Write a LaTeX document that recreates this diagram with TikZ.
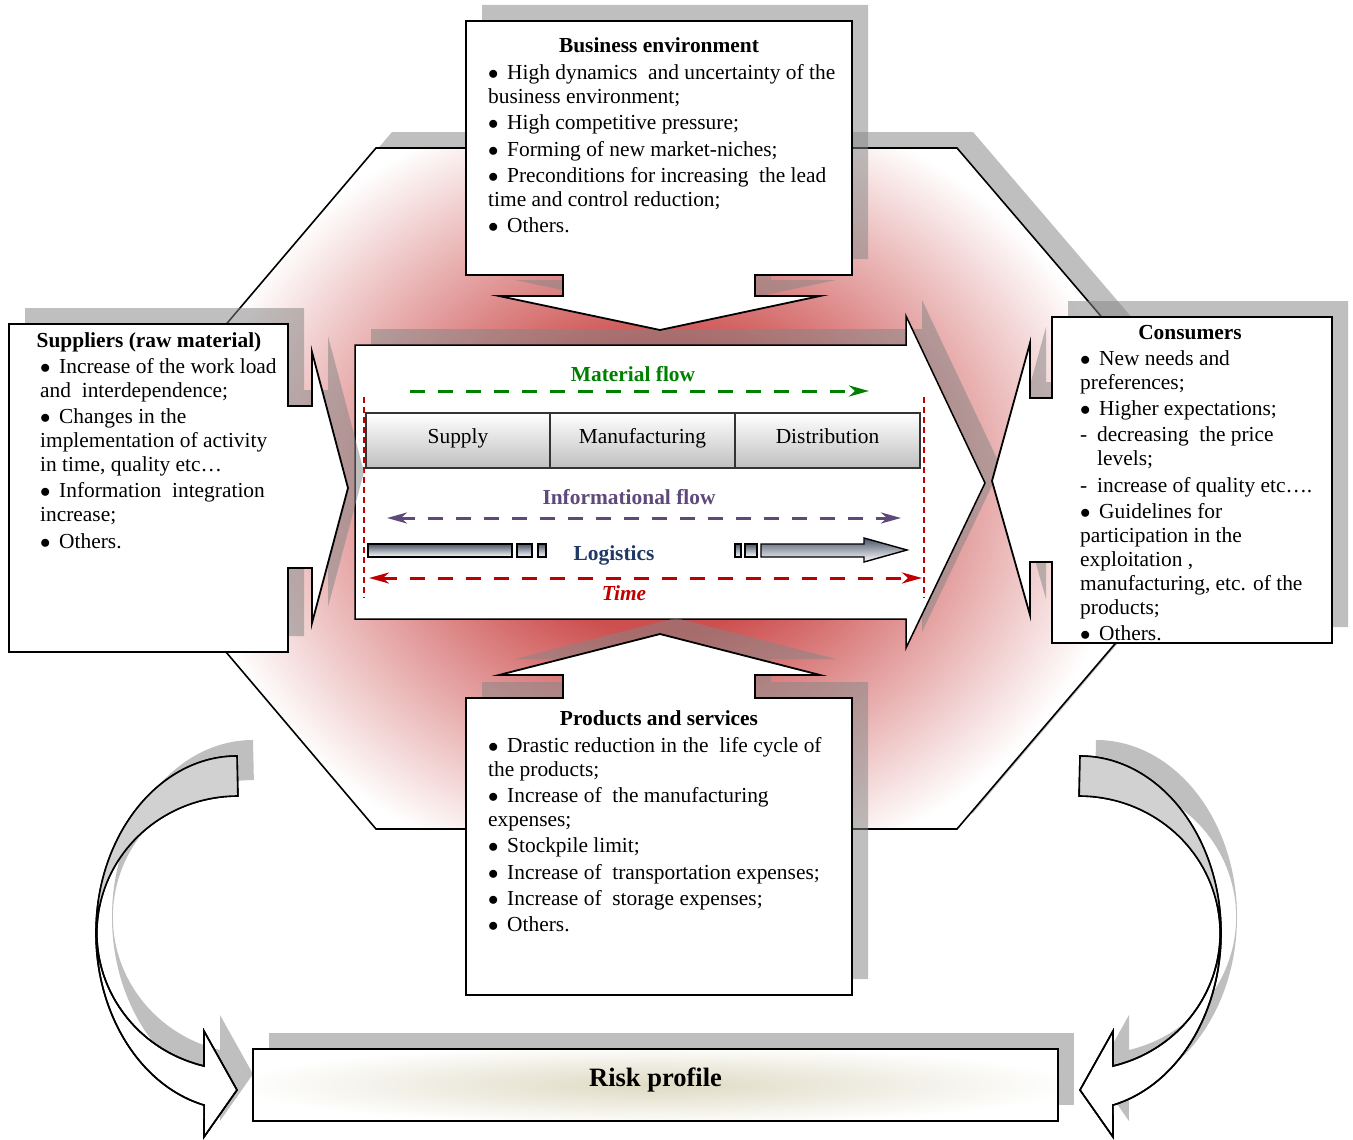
\documentclass[tikz,border=0pt]{standalone}
\usepackage{fontspec}
\setmainfont{Liberation Serif}
\usetikzlibrary{arrows.meta}

\definecolor{glowred}{RGB}{205,80,80}
\definecolor{matgreen}{RGB}{0,128,0}
\definecolor{infopurple}{RGB}{95,73,122}
\definecolor{logblue}{RGB}{31,56,100}
\definecolor{timered}{RGB}{192,0,0}
\definecolor{slate}{RGB}{75,85,105}
\definecolor{riskbeige}{RGB}{222,218,195}

\pgfdeclareradialshading{glow}{\pgfpoint{0bp}{0bp}}{color(0bp)=(glowred); color(9bp)=(glowred); color(25bp)=(white); color(50bp)=(white)}
\pgfdeclareradialshading{riskglow}{\pgfpoint{0bp}{0bp}}{color(0bp)=(riskbeige); color(25bp)=(white); color(50bp)=(white)}

\newcommand{\bodysize}{\fontsize{21.4}{24}\selectfont}
\newcommand{\bul}{\makebox[19pt][l]{$\bullet$}}
\newcommand{\dsh}{\makebox[17pt][l]{-}}

% contours
\newcommand{\hexpath}{(376,148) -- (957,148) -- (1248,488) -- (957,829) -- (376,829) -- (87,488) -- cycle}
\newcommand{\mainarrow}{(355,345) -- (906,345) -- (906,316) -- (985,483) -- (906,648) -- (906,619) -- (355,619) -- cycle}
\newcommand{\toppanel}{(466,21) -- (852,21) -- (852,275) -- (755,275) -- (755,296) -- (820,296) -- (660,330) -- (499,296) -- (563,296) -- (563,275) -- (466,275) -- cycle}
\newcommand{\botpanel}{(466,995) -- (852,995) -- (852,698) -- (755,698) -- (755,675) -- (820,675) -- (660,634) -- (499,675) -- (563,675) -- (563,698) -- (466,698) -- cycle}
\newcommand{\leftpanel}{(9,324) -- (288,324) -- (288,406) -- (312,406) -- (312,352) -- (348,488) -- (312,623) -- (312,568) -- (288,568) -- (288,652) -- (9,652) -- cycle}
\newcommand{\rightpanel}{(1332,317) -- (1052,317) -- (1052,398) -- (1030,398) -- (1030,343) -- (992,481) -- (1030,615) -- (1030,562) -- (1052,562) -- (1052,643) -- (1332,643) -- cycle}
\newcommand{\leftcurve}{(237,756) arc[start angle=270, end angle=103.5, x radius=141, y radius=177] -- (204,1137) -- (237,1090) -- (204,1031) -- (204,1066) arc[start angle=103.9, end angle=270, x radius=141, y radius=137] -- cycle}
\newcommand{\rightcurve}{(1080,756) arc[start angle=-90, end angle=76.5, x radius=141, y radius=177] -- (1113,1137) -- (1080,1090) -- (1113,1031) -- (1113,1066) arc[start angle=76.1, end angle=-90, x radius=141, y radius=137] -- cycle}

\tikzset{
  shadowfill/.style={fill=black!48, fill opacity=0.52},
  panel/.style={draw=black, line width=1.8pt, fill=white, line join=miter},
  bodytext/.style={font=\bodysize, align=left, inner sep=0pt, anchor=north west},
  headtext/.style={font=\bodysize\bfseries, inner sep=0pt, anchor=base},
  procbox/.style={draw=black!80, line width=1.6pt, top color=white, bottom color=black!25},
  logbar/.style={draw=black, line width=1.4pt, top color=slate, bottom color=white},
  flowline/.style={line width=3pt, dash pattern=on 15pt off 13pt},
  guideline/.style={draw=timered, line width=1.5pt, dash pattern=on 6pt off 4pt},
  curvearrow/.style={draw=black, line width=1.6pt, fill=white},
  flowtip/.tip={Stealth[length=20pt,width=11pt,inset=6pt]}
}

\begin{document}
\begin{tikzpicture}[x=1pt, y=-1pt]
\useasboundingbox (0,0) rectangle (1353,1140);

% Hexagone
\fill[shadowfill, shift={(16,-16)}] \hexpath;
\fill[white] \hexpath;
\begin{scope}
  \clip \hexpath;
  \shade[shading=glow] (660,488) ellipse [x radius=470, y radius=400];
\end{scope}
\draw[line width=1.6pt, line join=miter] \hexpath;

% Fleche centrale
\fill[shadowfill, shift={(16,-16)}] \mainarrow;
\draw[panel, line width=1.5pt] \mainarrow;
\draw[guideline] (364,397) -- (364,598);
\draw[guideline] (924,397) -- (924,598);

% Etapes
\foreach \xa/\xb/\nm/\lbl in {366/550/supply/Supply, 550/735/manuf/Manufacturing, 735/920/distr/Distribution}
  {
  \draw[procbox] (\xa,413) rectangle (\xb,468);
  \node[font=\bodysize, inner sep=0pt, anchor=base] (\nm) at ({(\xa+\xb)/2},443) {\lbl};
  }

% Flux
\node[headtext, text=matgreen] (material) at (633,381) {Material flow};
\coordinate (matA) at (410,391);
\coordinate (matB) at (869,391);
\draw[flowline, matgreen, -flowtip] (matA) -- (matB);

\node[headtext, text=infopurple] (informational) at (629,504) {Informational flow};
\coordinate (infoA) at (387,518);
\coordinate (infoB) at (901,518);
\draw[flowline, infopurple, flowtip-flowtip] (infoA) -- (infoB);

\node[headtext, text=logblue] (logistics) at (614,560) {Logistics};
\draw[logbar] (368,544) rectangle (512,557);
\draw[logbar] (517,544) rectangle (532,557);
\draw[logbar] (538,544) rectangle (546,557);
\draw[logbar] (735,544) rectangle (741,557);
\draw[logbar] (745,544) rectangle (757,557);
\draw[logbar] (761,544) -- (864,544) -- (864,538) -- (907,550) -- (864,562) -- (864,557) -- (761,557) -- cycle;

\node[headtext, font=\bodysize\bfseries\itshape, text=timered] (time) at (624,600) {Time};
\coordinate (timeA) at (369,578);
\coordinate (timeB) at (922,578);
\draw[flowline, timered, flowtip-flowtip] (timeA) -- (timeB);

% Environnement
\fill[shadowfill, shift={(16,-16)}] \toppanel;
\draw[panel] \toppanel;
\node[headtext] (envTitle) at (659,53) {Business environment};
\node[bodytext] (envText) at (488,64.4) {\bul High dynamics~ and uncertainty of the\\
business environment;\\[2.3pt]
\bul High competitive pressure;\\[2.3pt]
\bul Forming of new market-niches;\\[2.3pt]
\bul Preconditions for increasing~ the lead\\
time and control reduction;\\[2.3pt]
\bul Others.};

% Fournisseurs
\fill[shadowfill, shift={(16,-16)}] \leftpanel;
\draw[panel] \leftpanel;
\node[headtext] (supTitle) at (149,347) {Suppliers (raw material)};
\node[bodytext] (supText) at (40,358.1) {\bul Increase of the work load\\
and~ interdependence;\\[2.3pt]
\bul Changes in the\\
implementation of activity\\
in time, quality etc…\\[2.3pt]
\bul Information~ integration\\
increase;\\[2.3pt]
\bul Others.};

% Consommateurs
\fill[shadowfill, shift={(16,-16)}] \rightpanel;
\draw[panel] \rightpanel;
\node[headtext] (conTitle) at (1190,339) {Consumers};
\node[bodytext] (conText) at (1080,350.4) {\bul New needs and\\
preferences;\\[2.2pt]
\bul Higher expectations;\\[2.2pt]
\dsh decreasing~ the price\\
\hspace*{17pt}levels;\\[2.2pt]
\dsh increase of quality etc….\\[2.2pt]
\bul Guidelines for\\
participation in the\\
exploitation ,\\
manufacturing, etc. of the\\
products;\\[2.2pt]
\bul Others.};

% Produits
\fill[shadowfill, shift={(16,-16)}] \botpanel;
\draw[panel] \botpanel;
\node[headtext] (prodTitle) at (659,725) {Products and services};
\node[bodytext] (prodText) at (488,737.1) {\bul Drastic reduction in the~ life cycle of\\
the products;\\[2.3pt]
\bul Increase of~ the manufacturing\\
expenses;\\[2.3pt]
\bul Stockpile limit;\\[2.3pt]
\bul Increase of~ transportation expenses;\\[2.3pt]
\bul Increase of~ storage expenses;\\[2.3pt]
\bul Others.};

% Fleches courbes
\fill[shadowfill, shift={(16,-16)}] \leftcurve;
\filldraw[curvearrow] \leftcurve;
\begin{scope}
  \clip (0,0) rectangle (660,933);
  \fill[black!18] \leftcurve;
\end{scope}
\draw[curvearrow, fill=none] \leftcurve;

\fill[shadowfill, shift={(16,-16)}] \rightcurve;
\filldraw[curvearrow] \rightcurve;
\begin{scope}
  \clip (660,0) rectangle (1353,933);
  \fill[black!18] \rightcurve;
\end{scope}
\draw[curvearrow, fill=none] \rightcurve;

% Profil de risque
\fill[shadowfill] (269,1033) rectangle (1074,1105);
\fill[white] (253,1049) rectangle (1058,1121);
\begin{scope}
  \clip (253,1049) rectangle (1058,1121);
  \shade[shading=riskglow] (655,1085) ellipse [x radius=420, y radius=40];
\end{scope}
\draw[panel, fill=none] (253,1049) rectangle (1058,1121);
\node[font=\fontsize{26.5}{30}\selectfont\bfseries, inner sep=0pt, anchor=base] (risk) at (655.5,1086) {Risk profile};
\end{tikzpicture}
\end{document}
